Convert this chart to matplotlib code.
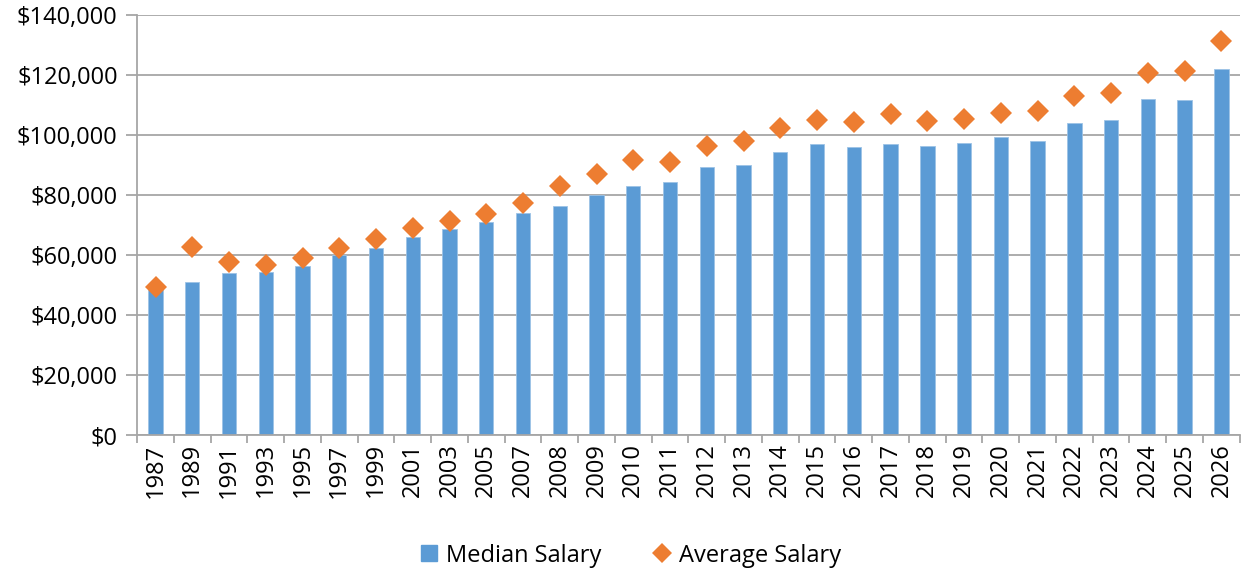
import numpy as np
import matplotlib
matplotlib.use('Agg')
import matplotlib.pyplot as plt
from matplotlib.ticker import FuncFormatter, FixedLocator

plt.rcParams['font.family'] = ['Open Sans', 'DejaVu Sans']

years = ['1987', '1989', '1991', '1993', '1995', '1997', '1999', '2001', '2003', '2005',
         '2007', '2008', '2009', '2010', '2011', '2012', '2013', '2014', '2015', '2016',
         '2017', '2018', '2019', '2020', '2021', '2022', '2023', '2024', '2025', '2026']
median_salary = [48300, 50900, 54100, 54400, 56400, 60000, 62400, 66100, 68700, 71000,
                 73900, 76200, 80000, 82900, 84200, 89400, 89900, 94400, 97000, 95900,
                 97000, 96400, 97400, 99200, 97900, 103900, 105000, 111900, 111700, 121900]
average_salary = [49200, 62800, 57600, 56700, 59100, 62200, 65300, 68900, 71300, 73600,
                  77400, 83100, 86900, 91700, 91100, 96300, 98000, 102400, 105100, 104400,
                  107100, 104600, 105200, 107200, 108000, 112900, 114100, 120700, 121200, 131200]

bar_color = '#5B9BD5'
dia_color = '#ED7D31'
grid_color = '#A6A6A6'

fig = plt.figure(figsize=(12.41, 5.69), dpi=100)
ax = fig.add_axes([0.1105, 0.2355, 0.8885, 0.738])

x = np.arange(len(years))
ax.bar(x, median_salary, width=0.39, color=bar_color, edgecolor='#9DC3E6',
       linewidth=0.6, zorder=2)
ax.plot(x, average_salary, linestyle='none', marker='D', markersize=11,
        color=dia_color, markeredgewidth=0, zorder=3)

ax.set_xlim(-0.5, len(years) - 0.5)
ax.set_ylim(0, 140000)
ax.set_yticks(np.arange(0, 140001, 20000))
ax.yaxis.set_major_formatter(FuncFormatter(lambda v, p: f'${v:,.0f}'))
ax.grid(axis='y', color=grid_color, linewidth=1.3, zorder=0)
ax.set_axisbelow(True)

# category labels, with ticks at category boundaries
ax.set_xticks(x)
ax.set_xticklabels(years, rotation=90, fontsize=17)
ax.tick_params(axis='x', which='major', length=0, pad=6)
ax.xaxis.set_minor_locator(FixedLocator(np.arange(-0.5, len(years), 1.0)))
ax.tick_params(axis='x', which='minor', length=6, width=1.3, color=grid_color)
ax.tick_params(axis='y', length=8, width=1.3, color=grid_color, labelsize=17, pad=6)

for s in ['top', 'right']:
    ax.spines[s].set_visible(False)
for s in ['left', 'bottom']:
    ax.spines[s].set_color(grid_color)
    ax.spines[s].set_linewidth(1.3)

handles = [
    plt.Line2D([], [], linestyle='none', marker='s', markersize=11, color=bar_color),
    plt.Line2D([], [], linestyle='none', marker='D', markersize=10, color=dia_color,
               markeredgewidth=0),
]
fig.legend(handles, ['Median Salary', 'Average Salary'], loc='lower center',
           bbox_to_anchor=(0.508, -0.035), ncol=2, frameon=False,
           fontsize=17, handlelength=0.8, handletextpad=0.3, columnspacing=2.2)

fig.savefig('out.png', dpi=100)
